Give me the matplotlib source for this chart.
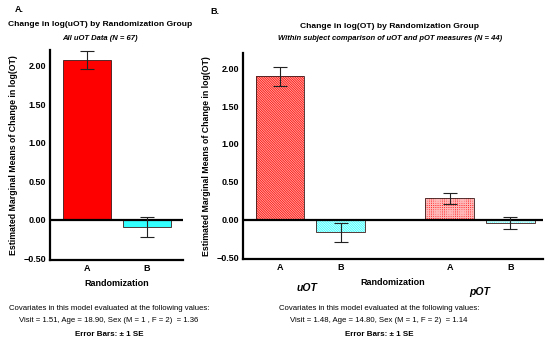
import matplotlib
matplotlib.use("Agg")
import matplotlib.pyplot as plt

plt.rcParams['font.family'] = ['Liberation Sans', 'DejaVu Sans']
plt.rcParams['hatch.linewidth'] = 0.7

# Panel A data
a_groups = ["A", "B"]
a_means = [2.07, -0.09]
a_se = [0.12, 0.13]

# Panel B data
b_groups = ["A", "B", "A", "B"]
b_measures = ["uOT", "pOT"]
b_means = [1.89, -0.17, 0.28, -0.05]
b_se = [0.12, 0.12, 0.075, 0.08]
b_pos = [0, 1, 2.8, 3.8]

yticks = [-0.5, 0.0, 0.5, 1.0, 1.5, 2.0]
ytick_labels = ["\u22120.50", "0.00", "0.50", "1.00", "1.50", "2.00"]

red = "#FF0000"
cyan = "#33FFFF"
edge = "#3a1a1a"

fig = plt.figure(figsize=(5.5, 3.42), dpi=100)
W, H = 550, 342

def ax_rect(x0, y0, x1, y1):
    return [x0 / W, 1 - y1 / H, (x1 - x0) / W, (y1 - y0) / H]

def style(ax):
    for s in ["top", "right"]:
        ax.spines[s].set_visible(False)
    for s in ["left", "bottom"]:
        ax.spines[s].set_linewidth(1.6)
    ax.set_ylim(-0.52, 2.2)
    ax.set_yticks(yticks)
    ax.set_yticklabels(ytick_labels)
    ax.tick_params(length=0, labelsize=6.5, pad=3)
    for lbl in ax.get_xticklabels() + ax.get_yticklabels():
        lbl.set_fontweight("bold")
    ax.axhline(0, color="black", lw=1.6, zorder=3)
    ax.set_ylabel("Estimated Marginal Means of Change in log(OT)", fontsize=6.3,
                  fontweight="bold", labelpad=4)

# Panel A
axA = fig.add_axes(ax_rect(50, 50, 183, 260))
xa = list(range(len(a_groups)))
axA.bar(xa, a_means, width=0.8, color=[red, cyan], edgecolor=edge, linewidth=0.6, zorder=2)
axA.errorbar(xa, a_means, yerr=a_se, fmt="none", ecolor="#222222", elinewidth=0.8,
             capsize=5, capthick=0.8, zorder=4)
axA.set_xlim(-0.62, 1.6)
axA.set_xticks(xa)
axA.set_xticklabels(a_groups)
style(axA)
axA.set_xlabel("Randomization", fontsize=6.5, fontweight="bold", labelpad=4)

# Panel B
axB = fig.add_axes(ax_rect(243, 53, 543, 259))
b_colors = [red, cyan, red, cyan]
hatch_col = ["#FFA8A0", "#C8FFFF", "#FFB8B8", "#C8FFFF"]
hatches = ["\\" * 14, "\\" * 14, "+" * 9, "+" * 9]
for x, m, c, hc, h in zip(b_pos, b_means, b_colors, hatch_col, hatches):
    axB.bar(x, m, width=0.8, color=c, edgecolor=hc, hatch=h, linewidth=0, zorder=2)
    axB.bar(x, m, width=0.8, color="none", edgecolor=edge, linewidth=0.6, zorder=2)
axB.errorbar(b_pos, b_means, yerr=b_se, fmt="none", ecolor="#222222", elinewidth=0.8,
             capsize=5, capthick=0.8, zorder=4)
axB.set_xlim(-0.61, 4.34)
axB.set_xticks(b_pos)
axB.set_xticklabels(b_groups)
style(axB)
axB.set_xlabel("Randomization", fontsize=6.5, fontweight="bold", labelpad=4)
for mx, name, off in zip([0.45, 3.3], b_measures, [-21, -24]):
    axB.annotate(name, xy=(mx, 0), xycoords=("data", "axes fraction"),
                 xytext=(0, off), textcoords="offset points", ha="center", va="center",
                 fontsize=7.5, fontweight="bold", style="italic")

# Titles and annotations
fig.text(15 / W, 1 - 10 / H, "A.", fontsize=6.5, fontweight="bold", ha="left", va="center")
fig.text(210 / W, 1 - 12 / H, "B.", fontsize=6.5, fontweight="bold", ha="left", va="center")
fig.text(100 / W, 1 - 25 / H, "Change in log(uOT) by Randomization Group", fontsize=6.1,
         fontweight="bold", ha="center", va="center")
fig.text(100 / W, 1 - 38 / H, "All uOT Data (N = 67)", fontsize=5.5,
         fontweight="bold", style="italic", ha="center", va="center")
fig.text(390 / W, 1 - 26 / H, "Change in log(OT) by Randomization Group", fontsize=6.1,
         fontweight="bold", ha="center", va="center")
fig.text(390 / W, 1 - 38 / H, "Within subject comparison of uOT and pOT measures (N = 44)",
         fontsize=5.5, fontweight="bold", style="italic", ha="center", va="center")

fig.text(109 / W, 1 - 308 / H, "Covariates in this model evaluated at the following values:",
         fontsize=5.6, ha="center", va="center")
fig.text(109 / W, 1 - 320 / H, "Visit = 1.51, Age = 18.90, Sex (M = 1 , F = 2)  = 1.36",
         fontsize=5.6, ha="center", va="center")
fig.text(109 / W, 1 - 334 / H, "Error Bars: \u00b1 1 SE", fontsize=5.8, fontweight="bold",
         ha="center", va="center")
fig.text(379 / W, 1 - 308 / H, "Covariates in this model evaluated at the following values:",
         fontsize=5.6, ha="center", va="center")
fig.text(379 / W, 1 - 320 / H, "Visit = 1.48, Age = 14.80, Sex (M = 1, F = 2)  = 1.14",
         fontsize=5.6, ha="center", va="center")
fig.text(379 / W, 1 - 334 / H, "Error Bars: \u00b1 1 SE", fontsize=5.8, fontweight="bold",
         ha="center", va="center")

fig.savefig("out.png", dpi=100)
